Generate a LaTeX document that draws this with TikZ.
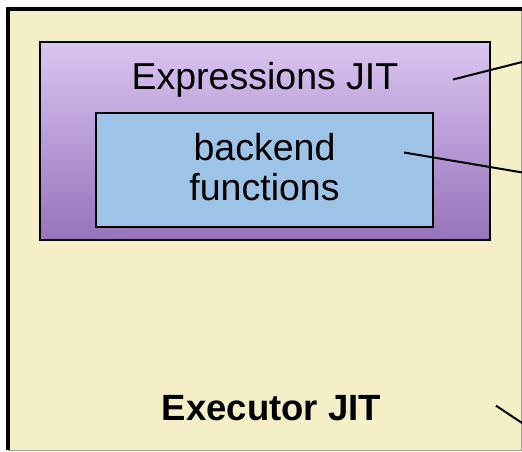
\documentclass[tikz,border=0pt]{standalone}
\usepackage{fontspec}
\setmainfont{Liberation Sans}
\definecolor{beige}{RGB}{245,239,200}
\definecolor{purpletop}{RGB}{218,197,241}
\definecolor{purplebot}{RGB}{150,115,186}
\definecolor{lightblue}{RGB}{157,195,230}
\definecolor{edgegray}{RGB}{160,160,150}
\tikzset{
  boxshape/.style={draw=black, line width=2pt, inner sep=0pt, rectangle},
  callout/.style={draw=black, line width=2pt},
  bigtext/.style={inner sep=0pt, font=\fontsize{37.5}{40}\selectfont, align=center},
}
\begin{document}
\begin{tikzpicture}[x=1pt,y=-1pt]
\useasboundingbox (0,0) rectangle (522,452);
% outer frame (cropped)
\fill[beige] (8,8.7) rectangle (521,450);
\draw[edgegray, line width=1pt] (521,10) -- (521,450) -- (8,450);
\draw[black, line width=4pt] (8,450) -- (8,8.7) -- (522,8.7);
% Expressions JIT box
\node[boxshape, top color=purpletop, bottom color=purplebot, minimum width=450.5pt, minimum height=197.5pt] (expr) at (264.75,141.25) {};
\node[bigtext, anchor=base] (exprlabel) at (265,89.3) {Expressions JIT};
% backend functions box
\node[boxshape, line width=1.6pt, fill=lightblue, minimum width=337pt, minimum height=114pt] (backend) at (264.5,170) {};
\node[bigtext] (backendlabel) at (264.5,167.5) {backend\\functions};
% Executor JIT label
\node[inner sep=0pt, anchor=base, font=\fontsize{36.5}{40}\selectfont\bfseries] (execlabel) at (271.5,420) {Executor JIT};
% callout lines
\coordinate (c1s) at (453,79.5);
\coordinate (c1e) at (523,61.8);
\coordinate (c2s) at (404,152.5);
\coordinate (c2e) at (523,172.6);
\coordinate (c3s) at (496,405.7);
\coordinate (c3e) at (523,423.6);
\draw[callout] (c1s) -- (c1e);
\draw[callout] (c2s) -- (c2e);
\draw[callout] (c3s) -- (c3e);
\end{tikzpicture}
\end{document}
